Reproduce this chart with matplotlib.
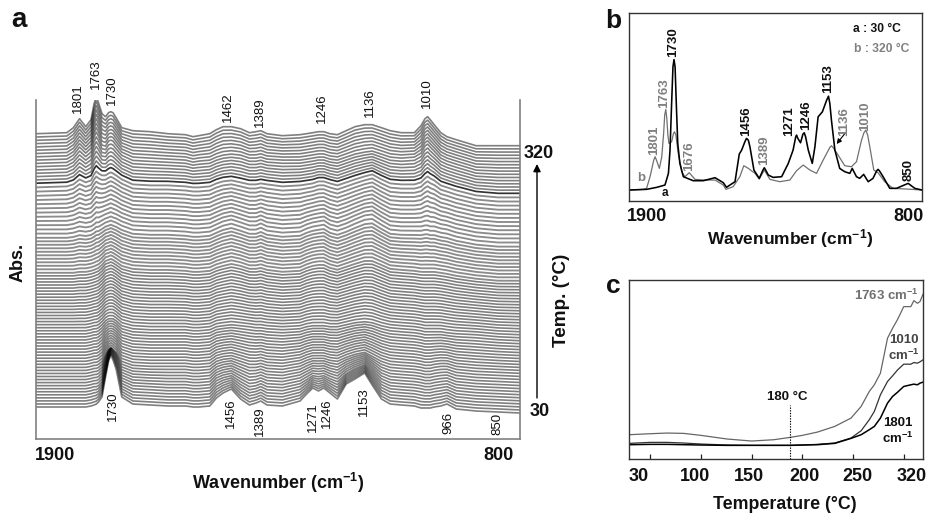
import numpy as np
import matplotlib
matplotlib.use("Agg")
import matplotlib.pyplot as plt

plt.rcParams['font.family'] = ['Liberation Sans', 'DejaVu Sans']
plt.rcParams['mathtext.fontset'] = 'custom'
plt.rcParams['mathtext.rm'] = 'Liberation Sans:bold'
plt.rcParams['mathtext.default'] = 'rm'

W, H = 930, 513

# ---------- panel a: band heights ----------
wn_a = [1900,1830,1815,1801,1787,1775,1768,1763,1758,1750,1742,1735,1730,1725,1718,1705,1680,1640,1600,1560,1543,1530,1505,1490,
        1475,1456,1435,1415,1400,1389,1375,1340,1300,1285,1271,1258,1246,1232,1215,1195,1175,1153,1136,1115,
        1095,1070,1040,1025,1016,1010,1004,995,980,966,945,900,850,800]
# index of the stacked trace at which each row below was read
read_trace = [0, 6, 13, 25, 45, 56, 66, 74, 82]
row_00 = [0,0,0,0,0,1,2,3,5,10,30,46,52,47,38,10,3,2,1,1,0,0,1,9,14,18,8,2,4,6,2,1,6,13,19,16,19,14,8,23,28,34,22,8,3,2,1,-1,-1,-1,-1,0,1,3,-2,-4,-5,-6]
row_06 = [0,0,0,0,0,1,2,2,3,7,22,34,38,34,28,8,3,2,1,1,0,0,1,8,11,13,7,2,3,5,2,1,5,9,13,12,13,10,7,15,20,24,17,7,3,2,1,0,-1,-1,-1,0,1,2,-2,-4,-5,-6]
row_13 = [0,0,0,0,0,1,2,2,3,6,13,18,20,18,15,6,2,1,1,1,0,0,1,6,8,9,6,3,3,4,2,1,4,7,9,9,9,7,6,10,13,15,11,6,3,2,1,0,-1,-1,-1,0,1,1,-2,-4,-5,-6]
row_25 = [0,0,0,0,0,1,2,2,3,6,10,12,12,12,10,5,2,1,1,1,0,0,1,4,5,6,5,4,3,3,2,1,2,4,5,5,5,4,4,6,8,9,8,5,3,2,1,0,-1,-1,-1,-1,-1,-2,-3,-4,-6,-7]
row_45 = [0,0,0,1,1,2,3,4,5,8,12,13,14,13,11,7,4,3,3,2,1,1,2,5,7,9,7,4,4,5,3,1,2,5,7,8,8,5,3,6,9,12,12,8,4,3,2,1,1,1,1,1,0,-1,-3,-6,-8,-8]
row_56 = [0,0,1,3,2,3,5,7,7,9,11,12,13,12,11,8,4,3,3,2,1,1,2,5,8,10,7,4,4,6,3,1,2,5,7,8,9,5,3,6,10,14,15,9,4,3,3,3,4,4,3,3,1,0,-3,-7,-9,-9]
row_66 = [0,1,3,8,5,7,13,16,14,12,12,14,15,14,12,8,3,2,2,1,0,0,1,4,6,7,5,3,3,4,3,1,2,3,4,6,6,4,2,5,8,11,13,8,4,3,3,5,9,11,9,7,2,0,-3,-8,-10,-10]
row_74 = [0,1,5,13,7,12,23,28,24,15,14,19,20,19,15,8,3,2,1,0,-2,-1,0,3,5,6,5,2,2,3,1,0,0,1,2,3,3,1,0,3,6,8,9,6,3,2,3,7,14,16,13,9,2,-1,-4,-10,-11,-11]
row_82 = [0,1,6,15,7,14,30,37,31,20,17,21,22,21,16,6,3,2,0,-1,-3,-2,0,4,7,7,5,1,2,3,0,-2,-1,0,1,2,2,0,-1,3,7,9,9,6,3,1,1,8,15,17,14,9,1,-3,-6,-12,-12,-12]
rows_a = np.array([row_00,row_06,row_13,row_25,row_45,row_56,row_66,row_74,row_82], float)
n_traces = 83

# ---------- panel b ----------
wn_b_a = [1900,1834,1796,1765,1752,1746,1740,1735,1731,1727,1722,1717,1709,1696,1659,1621,1577,1546,1534,1521,1502,1486,1477,1465,1459,1452,1446,1431,1411,1397,1392,1387,1377,1359,1327,1302,1284,1274,1271,1266,1256,1247,1242,1237,1227,1212,1202,1190,1174,1158,1151,1146,1140,1127,1109,1090,1071,1062,1046,1034,1019,1002,984,970,965,960,946,921,896,852,827,800]
abs_b_a = [0,2,8,15,50,120,260,370,392,370,250,140,80,40,28,28,37,22,8,15,25,108,120,145,155,150,130,60,35,60,67,60,45,38,40,80,120,160,165,155,142,168,172,160,120,80,130,220,235,270,282,260,210,120,65,55,50,65,40,35,47,25,35,58,62,58,40,5,5,20,5,0]
wn_b_b = [1900,1846,1834,1821,1807,1802,1797,1786,1777,1770,1766,1762,1758,1754,1750,1740,1733,1729,1724,1715,1702,1690,1674,1652,1621,1577,1546,1536,1509,1484,1469,1452,1427,1411,1392,1371,1334,1296,1271,1246,1221,1196,1171,1146,1140,1134,1115,1090,1065,1046,1027,1018,1011,1004,996,981,965,940,909,859,800]
abs_b_b = [0,2,5,40,90,100,90,65,100,170,225,242,215,165,140,145,170,175,165,110,55,40,52,32,30,30,15,2,10,40,73,65,50,33,60,32,25,30,58,75,60,50,90,128,133,128,105,73,70,85,150,172,180,165,130,60,52,25,5,3,0]

# ---------- panel c ----------
temp_pos = [29,50,66.5,83,100,126,150,172,188,200,215,232,248,258,266,271,277,284,289,294,300,307,310,313.5,316,319]
abs_1763 = [73,76,78,77,71,60,54,58,65,71,81,98,123,158,203,223,258,363,393,420,458,458,476,468,473,495]
abs_1010 = [47,50,50,48,45,42,41,41,41,42,44,48,63,85,118,143,193,233,250,268,285,285,290,288,292,298]
abs_1801 = [43,44,44,43,42,41,41,41,41,42,43,47,62,73,88,98,123,168,188,201,218,223,225,223,228,231]
c_tick_pos = [50,100,150,200,250,300]
c_tick_labels = ['30','100','150','200','250','320']

fig = plt.figure(figsize=(W/100, H/100), dpi=100)

def axpx(l, t, r, b):
    return fig.add_axes([l/W, 1-b/H, (r-l)/W, (b-t)/H])

def T(x, y, s, size=9.5, weight='normal', color='#111111', rot=0, **kw):
    fig.text(x/W, 1-y/H, s, fontsize=size, fontweight=weight, color=color, rotation=rot,
             ha='center', va='center', **kw)

# ---------- a ----------
axa = axpx(36, 100, 520, 439)
axa.set_xlim(1900, 800); axa.set_ylim(-32, 307)
read_idx = np.array(read_trace, float)
offset = 0.0
offsets = []
for i in range(n_traces):
    offsets.append(offset)
    if i < 44:
        offset += 3.05
    elif i < 54:
        offset += 3.5
    elif i < 67:
        offset += 4.2
    else:
        offset += 3.3
for i in range(n_traces-1, -1, -1):
    # traces between read rows are blended from the two neighbouring read rows
    prof = np.array([np.interp(i, read_idx, rows_a[:, k]) for k in range(len(wn_a))])
    y = prof + offsets[i]
    z = 2*(n_traces-i)
    axa.fill_between(wn_a, -32, y, color='white', lw=0, zorder=z)
    if i == 67:
        col, a, lw = 'black', 0.8, 1.25
    elif 44 <= i < 67:
        col, a, lw = 'black', 0.45, 1.35
    else:
        col, a, lw = 'black', 0.5, 1.2
    axa.plot(wn_a, y, color=col, alpha=a, lw=lw, zorder=z+1, solid_joinstyle='round')
axa.set_xticks([]); axa.set_yticks([])
axa.spines['top'].set_visible(False)
for s in ['left','right','bottom']:
    axa.spines[s].set_color('#808080'); axa.spines[s].set_linewidth(1.2); axa.spines[s].set_zorder(500)

for x, y, s in [(78,98,'1801'),(96,74,'1763'),(112,90,'1730'),(228,107,'1462'),(260,112,'1389'),(322,108,'1246'),(370,103,'1136'),(427,93,'1010'),
                (113,406,'1730'),(231,413,'1456'),(260,421,'1389'),(313,417,'1271'),(327,413,'1246'),(364,402,'1153'),(448,423,'966'),(497,424,'850')]:
    T(x, y, s, rot=90)
T(55,456,'1900',13,'bold'); T(498,456,'800',13,'bold')
T(278,483,r'Wavenumber (cm$^{-1}$)',13,'bold')
T(18,262,'Abs.',13,'bold',rot=90); T(562,300,'Temp. (°C)',13.6,'bold',rot=90)
T(539,153,'320',13,'bold'); T(540,412,'30',13,'bold')
T(19,20,'a',20,'bold'); T(613,21,'b',19,'bold'); T(613,286,'c',19,'bold')
fig.add_artist(matplotlib.patches.FancyArrowPatch((537/W,1-398/H),(537/W,1-164/H),transform=fig.transFigure,
               arrowstyle='-|>',mutation_scale=11,lw=1,color='black',shrinkA=0,shrinkB=0))

# ---------- b ----------
axb = axpx(629, 13, 922, 201)
axb.set_xlim(1900, 800); axb.set_ylim(-33, 532)
axb.plot(wn_b_b, abs_b_b, color='#707070', lw=0.9)
axb.plot(wn_b_a, abs_b_a, color='black', lw=1.15)
axb.set_xticks([]); axb.set_yticks([])
for s in axb.spines.values():
    s.set_color('#333333'); s.set_linewidth(1.0)
def Z5(zx, zy): return 600+zx/3, zy/3
for zx, zy, s, c in [(218,125,'1730','#111111'),(192,280,'1763','#808080'),(163,420,'1801','#808080'),(268,468,'1676','#808080'),
                     (437,365,'1456','#111111'),(492,452,'1389','#808080'),(568,365,'1271','#111111'),(618,345,'1246','#111111'),
                     (683,235,'1153','#111111'),(733,365,'1136','#808080'),(795,350,'1010','#808080'),(925,510,'850','#111111')]:
    x, y = Z5(zx, zy); T(x, y, s, 9.5, 'bold', c, rot=90)
x,y = Z5(125,535); T(x,y,'b',9.5,'bold','#808080')
x,y = Z5(195,578); T(x,y,'a',8.5,'bold','#111111')
x,y = Z5(832,88); T(x,y,'a : 30 °C',8.7,'bold','#111111')
x,y = Z5(845,146); T(x,y,'b : 320 °C',8.7,'bold','#808080')
x,y = Z5(140,650); T(x,y,'1900',13,'bold')
x,y = Z5(925,650); T(x,y,'800',13,'bold')
x,y = Z5(570,717); T(x,y,r'Wavenumber (cm$^{-1}$)',12.5,'bold')
xa,ya = Z5(735,400); xb,yb = Z5(710,432)
fig.add_artist(matplotlib.patches.FancyArrowPatch((xa/W,1-ya/H),(xb/W,1-yb/H),transform=fig.transFigure,
               arrowstyle='-|>',mutation_scale=7,lw=0.8,color='black',shrinkA=0,shrinkB=0))

# ---------- c ----------
axc = axpx(629, 280, 923, 459)
axc.set_xlim(29, 319); axc.set_ylim(0, 538)
axc.plot(temp_pos, abs_1763, color='#666666', lw=0.9)
axc.plot(temp_pos, abs_1010, color='#333333', lw=0.9)
axc.plot(temp_pos, abs_1801, color='black', lw=1.1)
axc.plot([188,188],[0,163], color='black', lw=0.8, ls=(0,(1.2,1.2)))
axc.set_yticks([]); axc.set_xticks(c_tick_pos); axc.set_xticklabels([])
ticks = axc.xaxis.get_major_ticks()
for i, t in enumerate(ticks):
    t.tick1line.set_markersize(7 if i % 2 else 4.5)
axc.tick_params(axis='x', direction='in', width=0.9, color='#222222')
for s in axc.spines.values():
    s.set_color('#333333'); s.set_linewidth(1.0)
def Z6(zx, zy): return 600+zx/3, 270+zy/3
for zx, s in zip([115,285,447,612,772,935], c_tick_labels):
    x,y = Z6(zx,620); T(x,y,s,13,'bold')
x,y = Z6(555,703); T(x,y,'Temperature (°C)',12.8,'bold')
x,y = Z6(563,380); T(x,y,'180 °C',9.5,'bold')
x,y = Z6(860,75); T(x,y,r'1763 cm$^{-1}$',9.5,'bold','#707070')
x,y = Z6(912,210); T(x,y,'1010',9.5,'bold','#444444')
x,y = Z6(912,255); T(x,y,r'cm$^{-1}$',9.5,'bold','#444444')
x,y = Z6(893,458); T(x,y,'1801',9.5,'bold')
x,y = Z6(893,505); T(x,y,r'cm$^{-1}$',9.5,'bold')

fig.savefig('out.png', dpi=100)
